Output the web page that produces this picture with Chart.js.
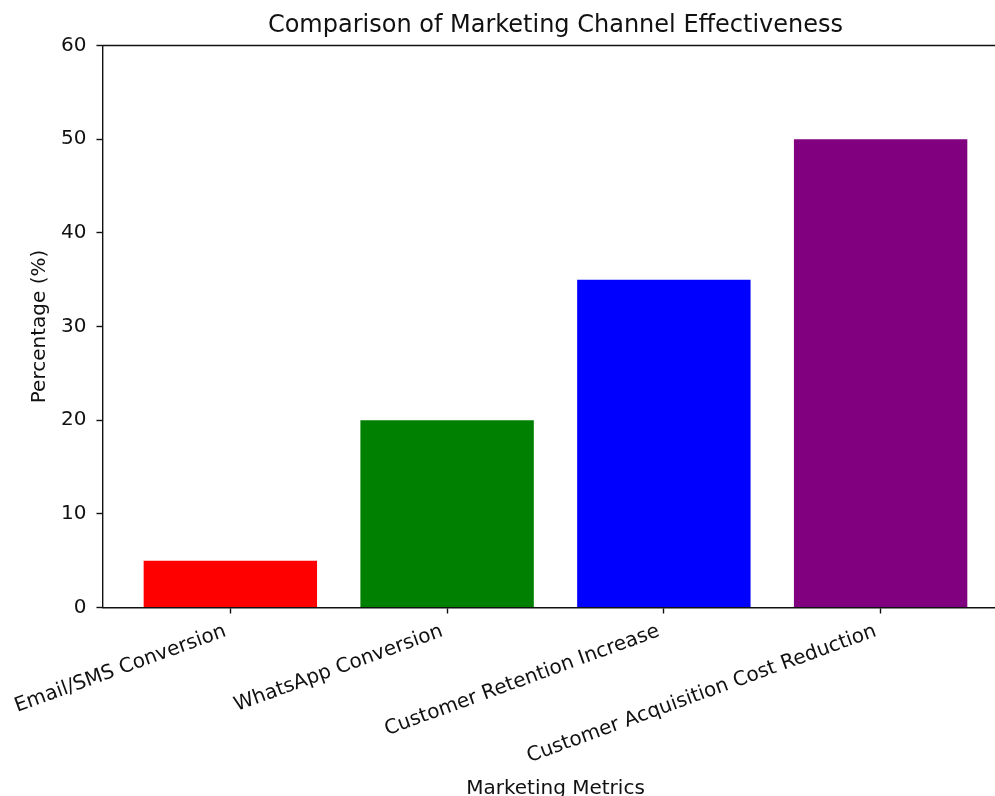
<!DOCTYPE html>
<html>
<head>
<meta charset="utf-8">
<script src="https://cdn.jsdelivr.net/npm/chart.js@4/dist/chart.umd.min.js"></script>
<style>
html, body { margin: 0; padding: 0; overflow: hidden; background: #fff; }
#wrap { position: absolute; left: 0; top: 0; width: 1010px; height: 801px; }
</style>
</head>
<body>
<div id="wrap"><canvas id="myChart" width="1010" height="801"></canvas></div>
<script>
const categories = ['Email/SMS Conversion', 'WhatsApp Conversion', 'Customer Retention Increase', 'Customer Acquisition Cost Reduction'];
const values = [5, 20, 35, 50];
const barColors = ['#ff0000', '#008000', '#0000ff', '#800080'];
const yTicks = [0, 10, 20, 30, 40, 50, 60];

const font = 'DejaVu Sans';
const ink = '#111';

// matplotlib draws the top/right spines too
const spines = {
    id: 'spines',
    afterDraw(chart) {
        const a = chart.chartArea;
        const c = chart.ctx;
        c.save();
        c.strokeStyle = ink;
        c.lineWidth = 1.4;
        c.beginPath();
        c.moveTo(a.left, a.top);
        c.lineTo(a.right, a.top);
        c.lineTo(a.right, a.bottom);
        c.stroke();
        c.restore();
    }
};

const ctx = document.getElementById('myChart').getContext('2d');
const myChart = new Chart(ctx, {
    type: 'bar',
    data: {
        datasets: [{
            data: values.map((v, i) => ({x: i, y: v})),
            backgroundColor: barColors,
            borderWidth: 0,
            categoryPercentage: 1.0,
            barPercentage: 0.8
        }]
    },
    options: {
        responsive: false,
        animation: false,
        devicePixelRatio: 1,
        layout: {padding: {left: 0, right: 1.5, top: 0, bottom: 0}},
        plugins: {
            legend: {display: false},
            tooltip: {enabled: false},
            title: {
                display: true,
                fullSize: false,
                text: 'Comparison of Marketing Channel Effectiveness',
                color: ink,
                font: {family: font, size: 24, weight: 'normal'},
                padding: {top: 11.5, bottom: 5.2}
            }
        },
        scales: {
            x: {
                type: 'linear',
                offset: false,
                min: -0.59,
                max: 3.59,
                afterBuildTicks: (scale) => {
                    scale.ticks = categories.map((c, i) => ({value: i}));
                },
                afterFit: (scale) => { scale.height = 193.5; },
                grid: {offset: false, drawOnChartArea: false, drawTicks: true, tickLength: 6, tickColor: ink, tickWidth: 1.4},
                border: {display: true, color: ink, width: 1.4},
                ticks: {
                    autoSkip: false,
                    minRotation: 20,
                    maxRotation: 20,
                    padding: 6,
                    labelOffset: -5,
                    color: ink,
                    font: {family: font, size: 20},
                    callback: (v) => categories[v]
                },
                title: {
                    display: true,
                    text: 'Marketing Metrics',
                    color: ink,
                    font: {family: font, size: 20},
                    padding: {top: 0, bottom: 0}
                }
            },
            y: {
                min: 0,
                max: 60,
                afterBuildTicks: (scale) => {
                    scale.ticks = yTicks.map(v => ({value: v}));
                },
                afterFit: (scale) => { scale.width = 102; },
                grid: {drawOnChartArea: false, drawTicks: true, tickLength: 6, tickColor: ink, tickWidth: 1.4},
                border: {display: true, color: ink, width: 1.4},
                ticks: {
                    padding: 10,
                    color: ink,
                    font: {family: font, size: 20}
                },
                title: {
                    display: true,
                    text: 'Percentage (%)',
                    color: ink,
                    font: {family: font, size: 20},
                    padding: {top: 27, bottom: 0}
                }
            }
        }
    },
    plugins: [spines]
});
</script>
</body>
</html>
